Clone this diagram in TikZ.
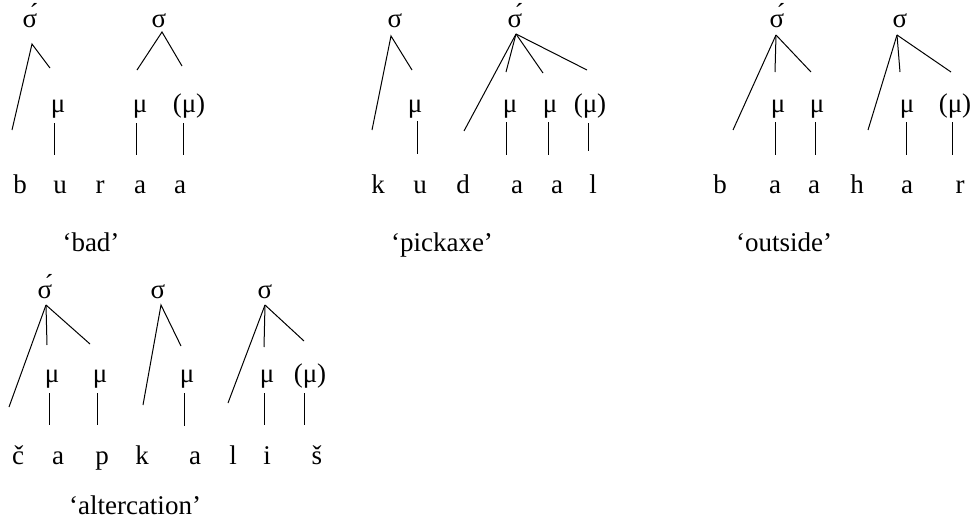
\documentclass[tikz,border=0pt]{standalone}
\usepackage{fontspec}
\setmainfont{Liberation Serif}
\begin{document}
\begin{tikzpicture}[x=1pt,y=-1pt,
  tx/.style={inner sep=0pt,anchor=base,font=\fontsize{27}{30}\selectfont},
  ln/.style={line width=1pt}]
\useasboundingbox (0,0) rectangle (975,525);
% ---------- tree 1: buraa
\node[tx] (s1a) at (30,27) {σ́};
\node[tx] (s1b) at (159,27) {σ};
\node[tx] (m1a) at (58,112) {μ};
\node[tx] (m1b) at (140,112) {μ};
\node[tx] (m1c) at (189,112) {(μ)};
\foreach \n/\x/\t in {l1a/20/b,l1b/60/u,l1c/100/r,l1d/140/a,l1e/180/a}
  \node[tx] (\n) at (\x,193) {\t};
\coordinate (a1a) at (32,44); \coordinate (e1a1) at (12,130); \coordinate (e1a2) at (50,68);
\coordinate (a1b) at (162,32); \coordinate (e1b1) at (137,70); \coordinate (e1b2) at (182,66);
\draw[ln] (e1a1) -- (a1a) -- (e1a2);
\draw[ln] (e1b1) -- (a1b) -- (e1b2);
\coordinate (b1at) at (54,123); \coordinate (b1ab) at (54,155);
\coordinate (b1bt) at (136,123); \coordinate (b1bb) at (136,155);
\coordinate (b1ct) at (183,123); \coordinate (b1cb) at (183,155);
\draw[ln] (b1at) -- (b1ab); \draw[ln] (b1bt) -- (b1bb); \draw[ln] (b1ct) -- (b1cb);
\node[tx] (g1) at (91,251) {‘bad’};
% ---------- tree 2: kudaal
\node[tx] (s2a) at (395,27) {σ};
\node[tx] (s2b) at (515,27) {σ́};
\node[tx] (m2a) at (415,112) {μ};
\node[tx] (m2b) at (510,112) {μ};
\node[tx] (m2c) at (550,112) {μ};
\node[tx] (m2d) at (590,112) {(μ)};
\foreach \n/\x/\t in {l2a/378/k,l2b/420/u,l2c/463/d,l2d/517/a,l2e/557/a,l2f/593/l}
  \node[tx] (\n) at (\x,193) {\t};
\coordinate (a2a) at (391,36); \coordinate (e2a1) at (372,130); \coordinate (e2a2) at (412,70);
\coordinate (a2b) at (516,34); \coordinate (e2b1) at (464,131); \coordinate (e2b2) at (506,72);
\coordinate (e2b3) at (543,73); \coordinate (e2b4) at (587,70);
\draw[ln] (e2a1) -- (a2a) -- (e2a2);
\draw[ln] (a2b) -- (e2b1); \draw[ln] (a2b) -- (e2b2); \draw[ln] (a2b) -- (e2b3); \draw[ln] (a2b) -- (e2b4);
\coordinate (b2at) at (417,121); \coordinate (b2ab) at (417,154);
\coordinate (b2bt) at (506,122); \coordinate (b2bb) at (506,155);
\coordinate (b2ct) at (548,122); \coordinate (b2cb) at (548,155);
\coordinate (b2dt) at (588,123); \coordinate (b2db) at (588,151);
\draw[ln] (b2at) -- (b2ab); \draw[ln] (b2bt) -- (b2bb); \draw[ln] (b2ct) -- (b2cb); \draw[ln] (b2dt) -- (b2db);
\node[tx] (g2) at (442,251) {‘pickaxe’};
% ---------- tree 3: baahar
\node[tx] (s3a) at (777,27) {σ́};
\node[tx] (s3b) at (900,27) {σ};
\node[tx] (m3a) at (778,112) {μ};
\node[tx] (m3b) at (817,112) {μ};
\node[tx] (m3c) at (907,112) {μ};
\node[tx] (m3d) at (955,112) {(μ)};
\foreach \n/\x/\t in {l3a/720/b,l3b/775/a,l3c/814/a,l3d/857/h,l3e/907/a,l3f/960/r}
  \node[tx] (\n) at (\x,193) {\t};
\coordinate (a3a) at (776,35); \coordinate (e3a1) at (733,130); \coordinate (e3a2) at (775,72); \coordinate (e3a3) at (811,72);
\coordinate (a3b) at (897,35); \coordinate (e3b1) at (868,130); \coordinate (e3b2) at (900,72); \coordinate (e3b3) at (951,72);
\draw[ln] (a3a) -- (e3a1); \draw[ln] (a3a) -- (e3a2); \draw[ln] (a3a) -- (e3a3);
\draw[ln] (a3b) -- (e3b1); \draw[ln] (a3b) -- (e3b2); \draw[ln] (a3b) -- (e3b3);
\coordinate (b3at) at (775,122); \coordinate (b3ab) at (775,155);
\coordinate (b3bt) at (815,122); \coordinate (b3bb) at (815,155);
\coordinate (b3ct) at (906,122); \coordinate (b3cb) at (906,155);
\coordinate (b3dt) at (952,122); \coordinate (b3db) at (952,155);
\draw[ln] (b3at) -- (b3ab); \draw[ln] (b3bt) -- (b3bb); \draw[ln] (b3ct) -- (b3cb); \draw[ln] (b3dt) -- (b3db);
\node[tx] (g3) at (784,251) {‘outside’};
% ---------- tree 4: čapkališ
\node[tx] (s4a) at (45,298) {σ́};
\node[tx] (s4b) at (158,298) {σ};
\node[tx] (s4c) at (265,298) {σ};
\node[tx] (m4a) at (52,382) {μ};
\node[tx] (m4b) at (100,382) {μ};
\node[tx] (m4c) at (187,382) {μ};
\node[tx] (m4d) at (267,382) {μ};
\node[tx] (m4e) at (310,382) {(μ)};
\foreach \n/\x/\t in {l4a/18/č,l4b/58/a,l4c/102/p,l4d/142/k,l4e/195/a,l4f/233/l,l4g/267/i,l4h/317/š}
  \node[tx] (\n) at (\x,464) {\t};
\coordinate (a4a) at (46,305); \coordinate (e4a1) at (9,407); \coordinate (e4a2) at (47,345); \coordinate (e4a3) at (90,344);
\coordinate (a4b) at (161,305); \coordinate (e4b1) at (143,405); \coordinate (e4b2) at (181,346);
\coordinate (a4c) at (265,305); \coordinate (e4c1) at (228,403); \coordinate (e4c2) at (264,347); \coordinate (e4c3) at (304,341);
\draw[ln] (a4a) -- (e4a1); \draw[ln] (a4a) -- (e4a2); \draw[ln] (a4a) -- (e4a3);
\draw[ln] (e4b1) -- (a4b) -- (e4b2);
\draw[ln] (a4c) -- (e4c1); \draw[ln] (a4c) -- (e4c2); \draw[ln] (a4c) -- (e4c3);
\coordinate (b4at) at (49,393); \coordinate (b4ab) at (49,425);
\coordinate (b4bt) at (97,393); \coordinate (b4bb) at (97,425);
\coordinate (b4ct) at (184,393); \coordinate (b4cb) at (184,426);
\coordinate (b4dt) at (264,393); \coordinate (b4db) at (264,425);
\coordinate (b4et) at (304,393); \coordinate (b4eb) at (304,425);
\draw[ln] (b4at) -- (b4ab); \draw[ln] (b4bt) -- (b4bb); \draw[ln] (b4ct) -- (b4cb); \draw[ln] (b4dt) -- (b4db); \draw[ln] (b4et) -- (b4eb);
\node[tx] (g4) at (135,514) {‘altercation’};
\end{tikzpicture}
\end{document}
